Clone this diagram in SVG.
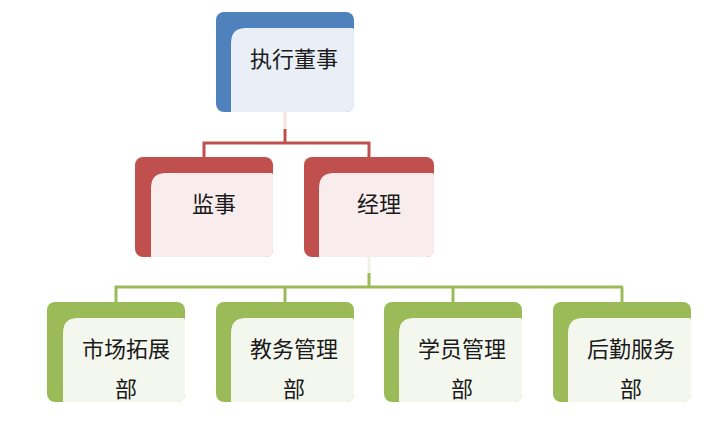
<svg xmlns="http://www.w3.org/2000/svg" width="708" height="439" viewBox="0 0 708 439">
<style>
text{font-family:"Noto Sans CJK SC","Noto Sans",sans-serif;font-size:22px;fill:#1a1a1a;text-anchor:middle}
.b-o{fill:#4F81BD}.b-i{fill:#EAEFF7}
.r-o{fill:#C0504D}.r-i{fill:#F8ECEC}
.g-o{fill:#9BBB59}.g-i{fill:#F4F7EE}
.cr{stroke:#C0504D;stroke-width:3;fill:none}
.cg{stroke:#9BBB59;stroke-width:3;fill:none}
</style>
<rect width="708" height="439" fill="#fff"/>
<g id="connectors">
<line x1="285" y1="112" x2="285" y2="129" stroke="#F6E1E1" stroke-width="3"/>
<polyline class="cr" points="285,129 285,143"/>
<polyline class="cr" points="204,157 204,143 369,143 369,157"/>
<line x1="369" y1="257" x2="369" y2="273" stroke="#EEF3E4" stroke-width="3"/>
<polyline class="cg" points="369,273 369,287"/>
<polyline class="cg" points="116,302 116,287 623,287"/>
<line class="cg" x1="285" y1="287" x2="285" y2="302"/>
<line class="cg" x1="453" y1="287" x2="453" y2="302"/>
<line class="cg" x1="622" y1="287" x2="622" y2="302"/>
</g>
<g id="n-exec">
<rect class="b-o" x="216" y="12" width="138" height="100" rx="8"/>
<path class="b-i" d="M231,112 V43 Q231,28 246,28 H352 Q354,28 354,30 V104 Q354,112 346,112 Z"/>
<text x="294" y="67">执行董事</text>
</g>
<g id="n-supervisor">
<rect class="r-o" x="135" y="157" width="138" height="100" rx="8"/>
<path class="r-i" d="M151,257 V188 Q151,173 166,173 H271 Q273,173 273,175 V249 Q273,257 265,257 Z"/>
<text x="214" y="212">监事</text>
</g>
<g id="n-manager">
<rect class="r-o" x="304" y="157" width="130" height="100" rx="8"/>
<path class="r-i" d="M319,257 V188 Q319,173 334,173 H432 Q434,173 434,175 V249 Q434,257 426,257 Z"/>
<text x="379" y="212">经理</text>
</g>
<g id="n-market">
<rect class="g-o" x="47" y="302" width="138" height="100" rx="8"/>
<path class="g-i" d="M63,402 V333 Q63,318 78,318 H183 Q185,318 185,320 V394 Q185,402 177,402 Z"/>
<text x="126" y="357">市场拓展</text>
<text x="126" y="397">部</text>
</g>
<g id="n-teaching">
<rect class="g-o" x="216" y="302" width="138" height="100" rx="8"/>
<path class="g-i" d="M231,402 V333 Q231,318 246,318 H352 Q354,318 354,320 V394 Q354,402 346,402 Z"/>
<text x="294" y="357">教务管理</text>
<text x="294" y="397">部</text>
</g>
<g id="n-student">
<rect class="g-o" x="384" y="302" width="138" height="100" rx="8"/>
<path class="g-i" d="M399,402 V333 Q399,318 414,318 H520 Q522,318 522,320 V394 Q522,402 514,402 Z"/>
<text x="462" y="357">学员管理</text>
<text x="462" y="397">部</text>
</g>
<g id="n-logistics">
<rect class="g-o" x="553" y="302" width="138" height="100" rx="8"/>
<path class="g-i" d="M568,402 V333 Q568,318 583,318 H689 Q691,318 691,320 V394 Q691,402 683,402 Z"/>
<text x="631" y="357">后勤服务</text>
<text x="631" y="397">部</text>
</g>
</svg>
